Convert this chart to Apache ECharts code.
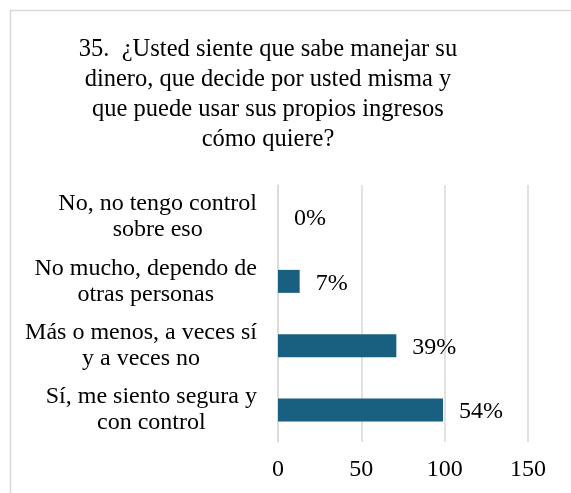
<!DOCTYPE html>
<html>
<head>
<meta charset="utf-8">
<script src="https://cdn.jsdelivr.net/npm/echarts@6/dist/echarts.min.js"></script>
<style>
  html, body { margin: 0; padding: 0; background: #fff; }
  #main { width: 571px; height: 493px; }
</style>
</head>
<body>
<div id="main"></div>
<script>
// datos (de abajo hacia arriba)
var categorias = [
  'Sí, me siento segura y\ncon control',
  'Más o menos, a veces sí\ny a veces no',
  'No mucho, dependo de\notras personas',
  'No, no tengo control\nsobre eso'
];
var valores = [99, 71, 13, 0];
var porcentajes = ['54%', '39%', '7%', '0%'];
var ticksX = [0, 50, 100, 150];

var fuente = '"Liberation Serif", "Times New Roman", serif';

var myChart = echarts.init(document.getElementById('main'));

option = {
    backgroundColor: '#fff',
    animation: false,
    title: {
        text: '35.  ¿Usted siente que sabe manejar su\ndinero, que decide por usted misma y\nque puede usar sus propios ingresos\ncómo quiere?',
        left: 263,
        top: 30,
        textAlign: 'center',
        textStyle: {
            fontFamily: fuente,
            fontSize: 24.5,
            fontWeight: 'normal',
            color: '#000',
            lineHeight: 30
        }
    },
    graphic: [{
        type: 'rect',
        left: 8,
        top: 8,
        shape: { width: 620, height: 600 },
        style: { fill: 'none', stroke: '#d9d9d9', lineWidth: 1.5 },
        silent: true
    }],
    grid: {
        left: 278,
        right: 43,
        top: 185,
        bottom: 51,
        containLabel: false
    },
    xAxis: {
        type: 'value',
        min: ticksX[0],
        max: ticksX[ticksX.length - 1],
        interval: 50,
        axisLine: { show: false },
        axisTick: { show: false },
        splitLine: { lineStyle: { color: '#d9d9d9', width: 1.5 } },
        axisLabel: {
            margin: 16,
            fontFamily: fuente,
            fontSize: 24,
            color: '#000'
        }
    },
    yAxis: {
        type: 'category',
        data: categorias,
        axisLine: { show: true, lineStyle: { color: '#d9d9d9', width: 1.5 } },
        axisTick: { show: false },
        axisLabel: {
            margin: 21,
            align: 'right',
            // cada línea centrada dentro del bloque
            formatter: function (v) {
                return v.split('\n').map(function (l) { return '{c|' + l + '}'; }).join('\n');
            },
            rich: {
                c: {
                    align: 'center',
                    fontFamily: fuente,
                    fontSize: 24,
                    lineHeight: 26,
                    color: '#000'
                }
            }
        }
    },
    series: [{
        type: 'bar',
        data: valores,
        barWidth: 23,
        itemStyle: { color: '#185f80' },
        label: {
            show: true,
            position: 'right',
            distance: 16,
            offset: [0, 2],
            fontFamily: fuente,
            fontSize: 24,
            color: '#000',
            formatter: function (p) { return porcentajes[p.dataIndex]; }
        }
    }]
};

myChart.setOption(option);
</script>
</body>
</html>
